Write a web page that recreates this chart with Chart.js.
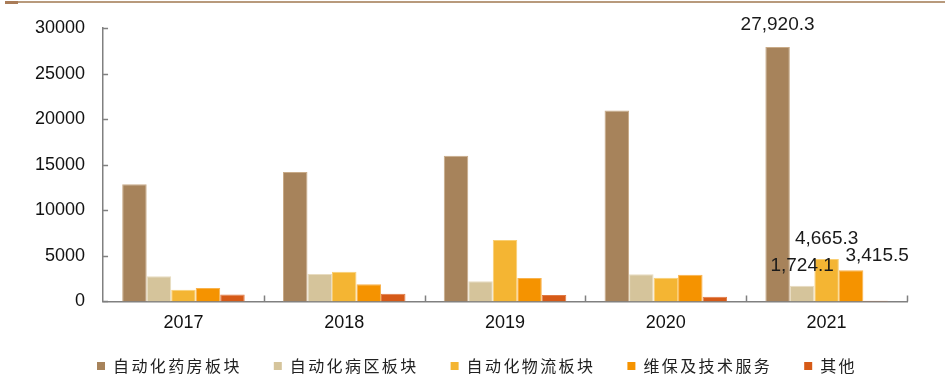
<!DOCTYPE html>
<html>
<head>
<meta charset="utf-8">
<script src="https://cdn.jsdelivr.net/npm/chart.js@4.4.1/dist/chart.umd.min.js"></script>
<style>
    html, body { margin: 0; padding: 0; background: #fff; }
    #wrap { position: relative; width: 947px; height: 387px; }
    #topline { position: absolute; left: 5px; top: 1px; width: 940px; height: 2px; background: #b89a7c; }
    #topline span { position: absolute; left: 0; top: 0; width: 13px; height: 3px; background: #a97c58; }
    canvas { position: absolute; left: 0; top: 0; }
</style>
</head>
<body>
<div id="wrap">
    <div id="topline"><span></span></div>
    <canvas id="myChart" width="947" height="387"></canvas>
</div>
<script>
const years = ['2017', '2018', '2019', '2020', '2021'];
const seriesNames = ['自动化药房板块', '自动化病区板块', '自动化物流板块', '维保及技术服务', '其他'];
const pharmacy = [12850, 14200, 15980, 20960, 27920.3];
const ward = [2750, 3000, 2200, 2970, 1724.1];
const logistics = [1290, 3260, 6750, 2600, 4665.3];
const service = [1460, 1870, 2570, 2930, 3415.5];
const others = [770, 850, 700, 520, 60];
const yTicks = [0, 5000, 10000, 15000, 20000, 25000, 30000];
// which points carry a value label (2021 only)
const labelledIndex = 4;

const colors = ['#a7835b', '#d5c49b', '#f4b533', '#f59300', '#d65a17'];
const edges = ['#c9ab88', '#e8dcc0', '#f9cf73', '#f8b24d', '#e07a45'];
// label offsets relative to the bar top: [dx, dy]
const labelOffsets = [[0, -22], [0, -20], [0, -20], [26, -15], null];

const allSeries = [pharmacy, ward, logistics, service, others];

// inward tick marks on both axes
const axisTicks = {
    id: 'axisTicks',
    afterDraw(chart) {
        const ctx = chart.ctx;
        const x = chart.scales.x;
        const y = chart.scales.y;
        ctx.save();
        ctx.strokeStyle = '#808080';
        ctx.lineWidth = 1.5;
        ctx.beginPath();
        yTicks.forEach(v => {
            const py = Math.round(y.getPixelForValue(v)) + 0.5;
            ctx.moveTo(y.right, py);
            ctx.lineTo(y.right + 5, py);
        });
        const step = (x.right - x.left) / years.length;
        for (let i = 1; i <= years.length; i++) {
            const px = Math.round(x.left + step * i) + 0.5;
            ctx.moveTo(px, x.top);
            ctx.lineTo(px, x.top - 6);
        }
        ctx.stroke();
        ctx.restore();
    }
};

const valueLabels = {
    id: 'valueLabels',
    afterDatasetsDraw(chart) {
        const ctx = chart.ctx;
        ctx.save();
        ctx.font = '19px "Liberation Sans", Arial, sans-serif';
        ctx.fillStyle = '#1a1a1a';
        ctx.textAlign = 'center';
        ctx.textBaseline = 'middle';
        chart.data.datasets.forEach((ds, i) => {
            const off = labelOffsets[i];
            if (!off) return;
            const bar = chart.getDatasetMeta(i).data[labelledIndex];
            const v = ds.data[labelledIndex];
            const txt = v.toLocaleString('en-US', {minimumFractionDigits: 1, maximumFractionDigits: 1});
            ctx.fillText(txt, bar.x + off[0], bar.y + off[1]);
        });
        ctx.restore();
    }
};

// legend drawn by hand so the letter spacing of the original can be kept
const bottomLegend = {
    id: 'bottomLegend',
    afterDraw(chart) {
        const ctx = chart.ctx;
        ctx.save();
        ctx.font = '16px "Noto Sans CJK SC", sans-serif';
        ctx.letterSpacing = '2.4px';
        ctx.textBaseline = 'middle';
        ctx.fillStyle = '#222';
        let cx = 97;
        const cy = 366;
        chart.data.datasets.forEach(ds => {
            ctx.fillStyle = ds.backgroundColor;
            ctx.fillRect(cx, cy - 4, 8, 8);
            ctx.fillStyle = '#222';
            ctx.fillText(ds.label, cx + 16, cy);
            cx += 16 + ctx.measureText(ds.label).width + 32;
        });
        ctx.restore();
    }
};

const ctx = document.getElementById('myChart').getContext('2d');
window.myChart = new Chart(ctx, {
    type: 'bar',
    data: {
        labels: years,
        datasets: seriesNames.map((name, i) => ({
            label: name,
            data: allSeries[i],
            backgroundColor: colors[i],
            borderColor: edges[i],
            borderWidth: 1,
            barPercentage: 1,
            categoryPercentage: 0.762
        }))
    },
    options: {
        responsive: false,
        animation: false,
        layout: {
            padding: {top: 28, left: 25, right: 40, bottom: 50}
        },
        plugins: {
            tooltip: {enabled: false},
            legend: {display: false}
        },
        scales: {
            x: {
                grid: {display: false},
                border: {color: '#808080', width: 1.5},
                ticks: {
                    color: '#111',
                    padding: 3,
                    font: {family: '"Liberation Sans", Arial, sans-serif', size: 18}
                }
            },
            y: {
                min: 0,
                max: 30000,
                grid: {display: false},
                border: {color: '#808080', width: 1.5},
                afterBuildTicks: axis => {
                    axis.ticks = yTicks.map(v => ({value: v}));
                },
                ticks: {
                    color: '#111',
                    padding: 10,
                    font: {family: '"Liberation Sans", Arial, sans-serif', size: 18},
                    callback: value => String(value)
                }
            }
        }
    },
    plugins: [axisTicks, valueLabels, bottomLegend]
});
</script>
</body>
</html>
